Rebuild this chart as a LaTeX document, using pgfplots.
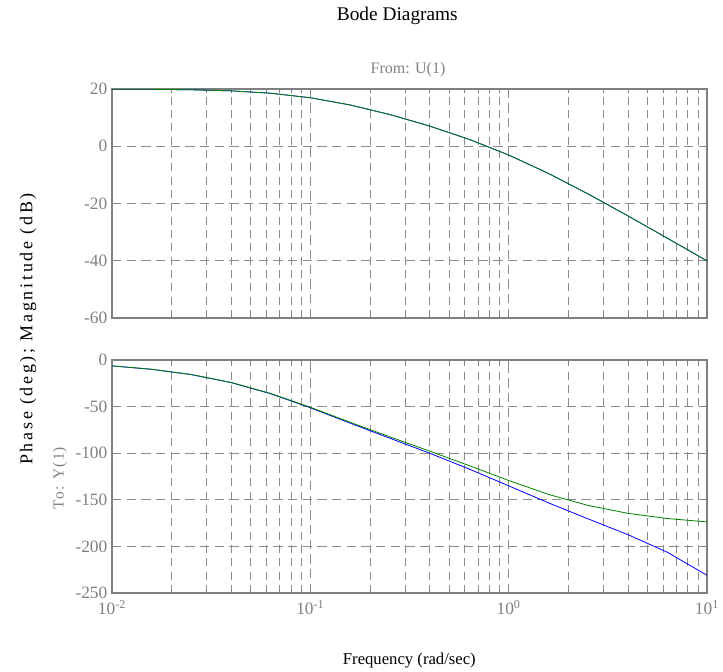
\documentclass[border=0pt]{standalone}
\usepackage{pgfplots}
\pgfplotsset{compat=1.18}
\usepackage{fontspec}
\setmainfont{Liberation Serif}
\definecolor{bodeblue}{rgb}{0,0,1}
\definecolor{bodegreen}{rgb}{0,0.5,0}
\definecolor{gridgray}{rgb}{0.55,0.55,0.55}
\definecolor{labelgray}{rgb}{0.50,0.50,0.50}

\pgfplotsset{
  bode/.style={
    scale only axis,
    width=446.25pt,
    anchor=south west,
    xmin=0.01, xmax=10,
    xtick={0.01,0.1,1,10},
    minor xtick={0.02,0.03,0.04,0.05,0.06,0.07,0.08,0.09,0.2,0.3,0.4,0.5,0.6,0.7,0.8,0.9,2,3,4,5,6,7,8,9},
    xmajorgrids=true, xminorgrids=true, ymajorgrids=true,
    major grid style={gridgray, line width=0.5pt, dash pattern=on 7pt off 4pt},
    minor grid style={gridgray, line width=0.5pt, dash pattern=on 6pt off 4pt},
    axis line style={labelgray, line width=0.9pt},
    tick style={labelgray, line width=0.6pt},
    tick align=inside,
    major tick length=3pt, minor tick length=3pt,
    tick label style={font=\fontsize{13}{14}\selectfont, text=labelgray},
    every axis plot/.append style={line width=0.6pt},
  }
}

\begin{document}
\begin{tikzpicture}
\useasboundingbox (0,0) rectangle (542.25pt,503.25pt);

% magnitude
\begin{axis}[xmode=log, bode,
  at={(84pt,264.75pt)}, height=171.75pt,
  ymin=-60, ymax=20,
  ytick={-60,-40,-20,0,20},
  yticklabels={-60,-40,-20,0,20},
  xticklabels={},
]
\addplot[bodeblue] coordinates {
(0.01,19.956) (0.015849,19.891) (0.025119,19.732) (0.039811,19.354) (0.063096,18.527)
(0.1,16.946) (0.15849,14.437) (0.25119,11.095) (0.39811,7.095) (0.63096,2.437)
(1,-3.053) (1.5849,-9.473) (2.5119,-16.646) (3.9811,-24.269) (6.3096,-32.109) (10,-40.044)};
\addplot[bodegreen] coordinates {
(0.01,19.956) (0.015849,19.891) (0.025119,19.732) (0.039811,19.354) (0.063096,18.527)
(0.1,16.946) (0.15849,14.437) (0.25119,11.095) (0.39811,7.095) (0.63096,2.437)
(1,-3.053) (1.5849,-9.473) (2.5119,-16.646) (3.9811,-24.269) (6.3096,-32.109) (10,-40.044)};
\end{axis}

% phase
\begin{axis}[xmode=log, bode,
  at={(84pt,58.5pt)}, height=174.75pt,
  ymin=-250, ymax=0,
  ytick={-250,-200,-150,-100,-50,0},
  yticklabels={-250,-200,-150,-100,-50,0},
  xticklabels={10\textsuperscript{-2},10\textsuperscript{-1},10\textsuperscript{0},10\textsuperscript{1}},
  xticklabel style={yshift=-2pt},
]
\addplot[bodeblue] coordinates {
(0.01,-6.341) (0.015849,-10.005) (0.025119,-15.683) (0.039811,-24.216) (0.063096,-36.22)
(0.1,-51.284) (0.15849,-67.662) (0.25119,-83.83) (0.39811,-99.89) (0.63096,-116.86)
(1,-135.02) (1.5849,-153.22) (2.5119,-170.40) (3.9811,-187.27) (6.3096,-206.24) (10,-231.01)};
\addplot[bodegreen] coordinates {
(0.01,-6.284) (0.015849,-9.914) (0.025119,-15.539) (0.039811,-23.988) (0.063096,-35.858)
(0.1,-50.711) (0.15849,-66.754) (0.25119,-82.39) (0.39811,-97.61) (0.63096,-113.24)
(1,-129.29) (1.5849,-144.14) (2.5119,-156.01) (3.9811,-164.46) (6.3096,-170.09) (10,-173.72)};
\end{axis}

\node[font=\fontsize{14.5}{16}\selectfont] at (298pt,491pt) {Bode Diagrams};
\node[font=\fontsize{12}{14}\selectfont, text=labelgray] at (306pt,450.75pt) {From: U(1)};
\node[font=\fontsize{12.5}{15}\selectfont] at (307pt,8pt) {Frequency (rad/sec)};
\node[rotate=90, font=\fontsize{13.5}{15}\selectfont\addfontfeature{LetterSpace=15}] at (21pt,256.5pt) {Phase (deg); Magnitude (dB)};
\node[rotate=90, font=\fontsize{11.5}{13}\selectfont\addfontfeature{LetterSpace=8}, text=labelgray] at (45pt,144.75pt) {To: Y(1)};
\end{tikzpicture}
\end{document}
